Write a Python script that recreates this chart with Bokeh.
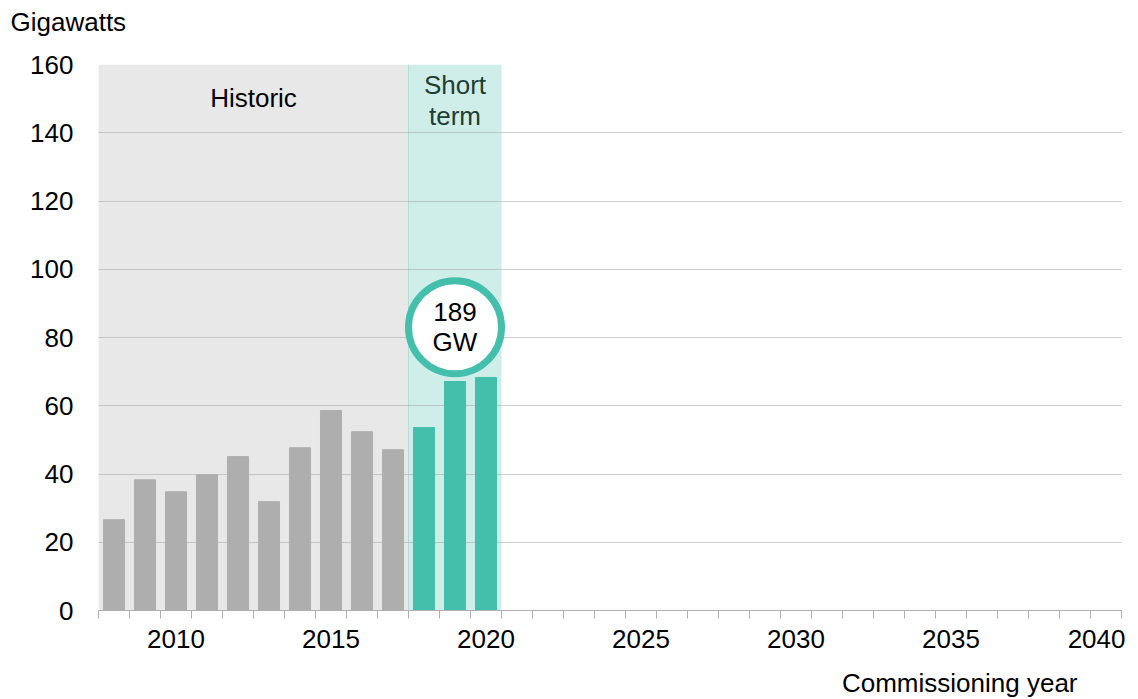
from bokeh.plotting import figure
from bokeh.models import FixedTicker, BoxAnnotation, Title
from bokeh.core.properties import value
from bokeh.embed import file_html
from bokeh.resources import INLINE

years_hist = [2008, 2009, 2010, 2011, 2012, 2013, 2014, 2015, 2016, 2017]
gw_hist = [26.6, 38.3, 34.8, 39.8, 45.1, 31.9, 47.7, 58.6, 52.4, 47.1]
years_short = [2018, 2019, 2020]
gw_short = [53.6, 67.1, 68.3]
total_label = "189\nGW"
x_ticks = [2010, 2015, 2020, 2025, 2030, 2035, 2040]
y_ticks = [0, 20, 40, 60, 80, 100, 120, 140, 160]

FONT = "Liberation Sans"
FS = "26px"
GRAY = "#aeaeae"
TEAL = "#43bfac"

p = figure(width=1125, height=699, output_backend="svg", toolbar_location=None,
           x_range=(2007.5, 2040.5), y_range=(0, 160),
           min_border_left=98, min_border_right=4, min_border_top=64, min_border_bottom=89)
p.outline_line_color = None
p.background_fill_color = "white"

# bands
hist_band = BoxAnnotation(left=2007.5, right=2017.5, fill_color="#e8e8e8", fill_alpha=1,
                          line_color=None, level="image")
short_band = BoxAnnotation(left=2017.5, right=2020.5, fill_color="#d0eee9", fill_alpha=1,
                           line_color=None, level="image")
p.add_layout(hist_band)
p.add_layout(short_band)
p.segment(x0=[2017.5], y0=[0], x1=[2017.5], y1=[160], line_color="#b5ddd5", line_width=1,
          level="underlay")

p.vbar(x=years_hist, top=gw_hist, width=0.68, color=GRAY)
p.vbar(x=years_short, top=gw_short, width=0.68, color=TEAL)

# grid
p.xgrid.visible = False
p.ygrid.ticker = FixedTicker(ticks=y_ticks)
p.ygrid.grid_line_color = "#a0a0a0"
p.ygrid.grid_line_dash = "1 1"
p.ygrid.grid_line_width = 1

# axes
p.xaxis.ticker = FixedTicker(ticks=x_ticks, minor_ticks=[2007.5 + i for i in range(34)])
p.xaxis.major_tick_out = 0
p.xaxis.major_tick_in = 0
p.xaxis.minor_tick_out = 8
p.xaxis.minor_tick_in = 0
p.xaxis.minor_tick_line_color = "#b0b0b0"
p.xaxis.axis_line_color = "#b0b0b0"
p.xaxis.axis_line_width = 1
p.xaxis.major_label_text_font = FONT
p.xaxis.major_label_text_font_size = FS
p.xaxis.major_label_text_color = "black"
p.xaxis.major_label_standoff = 11

p.yaxis.ticker = FixedTicker(ticks=y_ticks)
p.yaxis.axis_line_color = None
p.yaxis.major_tick_line_color = None
p.yaxis.minor_tick_line_color = None
p.yaxis.major_label_text_font = FONT
p.yaxis.major_label_text_font_size = FS
p.yaxis.major_label_text_color = "black"
p.yaxis.major_label_standoff = 19

# titles
p.title.text = "Gigawatts"
p.title.align = "left"
p.title.offset = -88
p.title.text_font = FONT
p.title.text_font_size = FS
p.title.text_font_style = "normal"
p.title.text_color = "black"
p.title.standoff = 0
p.title.padding = dict(top=0, right=0, bottom=28, left=0)

xt = Title(text="Commissioning year", align="right", offset=44, text_font=FONT,
           text_font_size=FS, text_font_style="normal", text_color="black", standoff=0,
           vertical_align="top", padding=dict(top=17, right=0, bottom=0, left=0))
p.add_layout(xt, "below")

# band labels
p.text(x=[2012.5], y=[150.3], text=["Historic"], text_font=value(FONT), text_font_size=FS,
       text_align="center", text_baseline="middle", text_color="black")
p.text(x=[2019], y=[149.4], text=["Short\nterm"], text_font=value(FONT), text_font_size=FS,
       text_align="center", text_baseline="middle", text_color="#1e3d35", text_line_height=1.04)

# circle callout
p.scatter(x=[2019], y=[83], size=93, fill_color="white", line_color=TEAL, line_width=7)
p.text(x=[2019], y=[83], text=[total_label], text_font=value(FONT), text_font_size=FS,
       text_align="center", text_baseline="middle", text_color="black", text_line_height=1.0)

open("out.html", "w").write(file_html(p, INLINE))
